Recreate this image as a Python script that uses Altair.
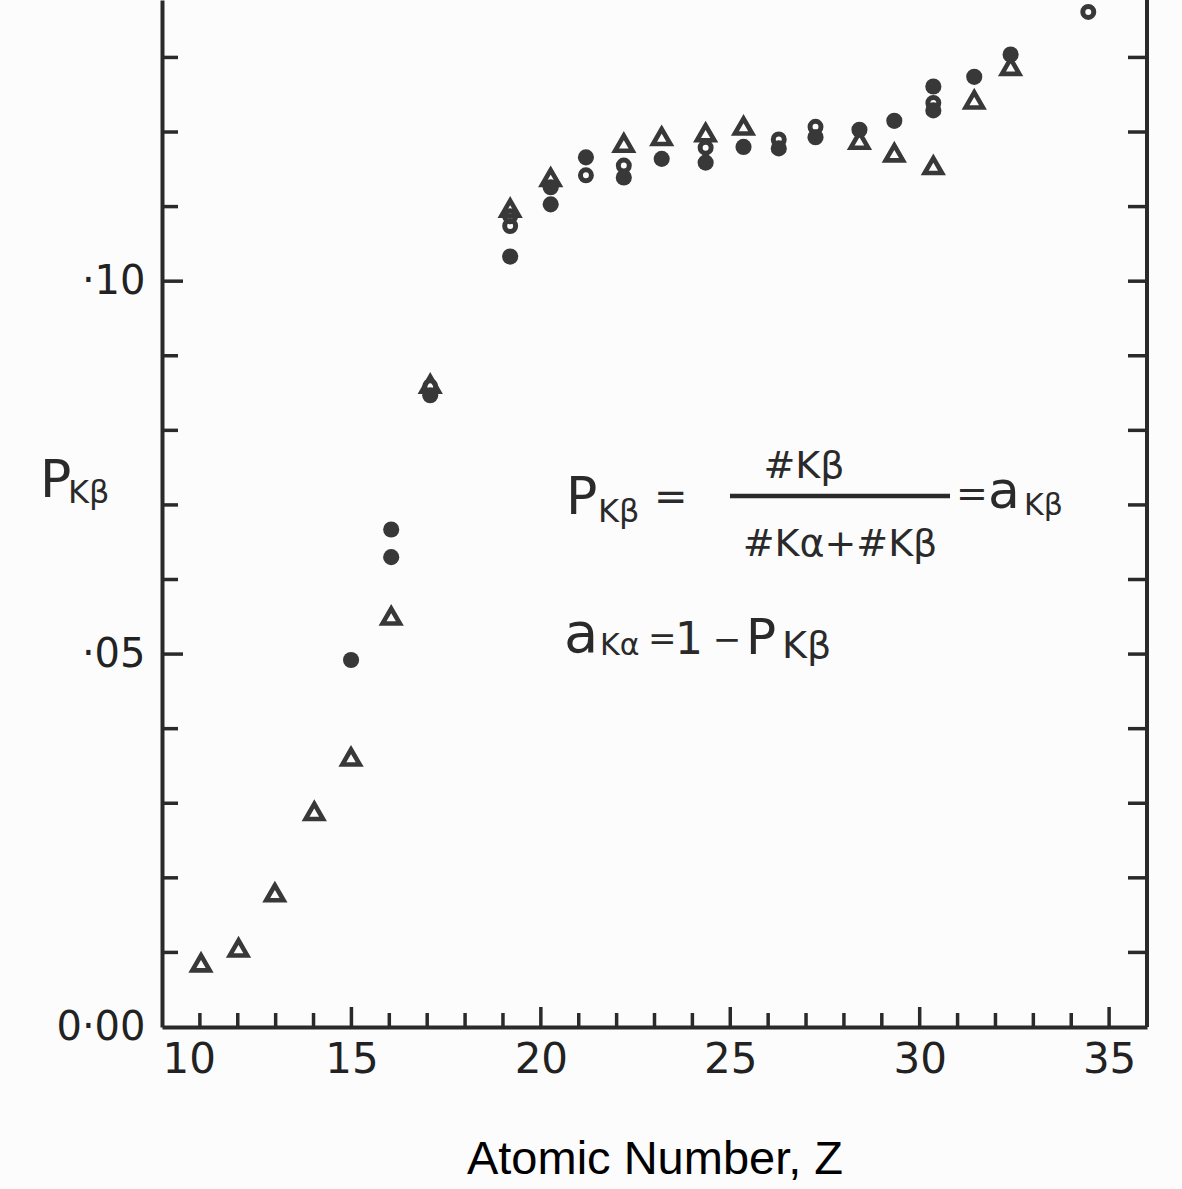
import altair as alt
import pandas as pd

# ---------------- data ----------------
# filled circles
filled_z = [14.99, 16.05, 16.05, 17.08, 19.19, 20.26, 20.26, 21.19, 22.19, 23.19,
            24.35, 25.35, 26.28, 27.25, 28.41, 29.33, 30.36, 30.36, 31.44, 32.40]
filled_p = [0.0492, 0.0630, 0.0667, 0.0847, 0.1033, 0.1126, 0.1103, 0.1166, 0.1139, 0.1164,
            0.1159, 0.1180, 0.1178, 0.1193, 0.1203, 0.1215, 0.1261, 0.1229, 0.1274, 0.1304]
# open circles
open_z = [17.08, 19.19, 19.19, 21.19, 22.19, 24.35, 26.28, 27.25, 30.36, 34.45]
open_p = [0.0859, 0.1087, 0.1074, 0.1142, 0.1155, 0.1179, 0.1190, 0.1207, 0.1239, 0.1361]
# open triangles
tri_z = [11.03, 12.02, 12.98, 14.02, 14.99, 16.05, 17.08, 19.19, 20.26, 22.19,
         23.19, 24.35, 25.35, 28.41, 29.33, 30.36, 31.44, 32.40]
tri_p = [0.0086, 0.0106, 0.0180, 0.0289, 0.0362, 0.0551, 0.0862, 0.1098, 0.1139, 0.1185,
         0.1194, 0.1199, 0.1208, 0.1189, 0.1172, 0.1155, 0.1243, 0.1288]

x_label_values = [10, 15, 20, 25, 30, 35]
y_label_values = [0.0, 0.05, 0.10]
y_label_texts = ["0·00", "·05", "·10"]
x_minor_ticks = [11, 12, 13, 14, 16, 17, 18, 19, 21, 22, 23, 24, 26, 27, 28, 29, 31, 32, 33, 34]
x_major_ticks = [15, 20, 25, 30, 35]
y_minor_ticks = [0.01, 0.02, 0.03, 0.04, 0.06, 0.07, 0.08, 0.09, 0.11, 0.12, 0.13]
y_major_ticks = [0.05, 0.10]
y_all_ticks = [0.01, 0.02, 0.03, 0.04, 0.05, 0.06, 0.07, 0.08, 0.09, 0.10, 0.11, 0.12, 0.13]

# ---------------- layout ----------------
W, H = 985, 1027
LEFT = 162
INK = "#2a2a2a"
MARK = "#383838"
FONT = "DejaVu Sans"

xscale = alt.Scale(domain=[10, 36], nice=False, zero=False)
yscale = alt.Scale(domain=[0, 0.1377], nice=False, zero=False)

label_expr = ("datum.value < 0.01 ? '" + y_label_texts[0] + "' : (datum.value < 0.07 ? '"
              + y_label_texts[1] + "' : '" + y_label_texts[2] + "')")

xaxis = alt.Axis(values=x_label_values, ticks=False, grid=False, domain=True,
                 domainWidth=4, domainColor=INK, labelFont=FONT, labelFontSize=42,
                 labelColor="#222", labelPadding=12, labelFlush=True,
                 title="Atomic Number, Z", titleFont="Liberation Sans",
                 titleFontSize=47, titleFontWeight="normal", titleColor="#000",
                 titlePadding=56)
yaxis = alt.Axis(values=y_label_values, labelExpr=label_expr, ticks=False, grid=False,
                 domain=True, domainWidth=4, domainColor=INK, labelFont=FONT,
                 labelFontSize=40, labelColor="#222", labelPadding=17, title=None)

filled_df = pd.DataFrame({"z": filled_z, "p": filled_p})
open_df = pd.DataFrame({"z": open_z, "p": open_p})
tri_df = pd.DataFrame({"z": tri_z, "p": tri_p})

X = alt.X("z:Q", scale=xscale, axis=xaxis)
Y = alt.Y("p:Q", scale=yscale, axis=yaxis)

tri_layer = alt.Chart(tri_df).mark_point(shape="triangle-up", filled=False, size=300,
                                          strokeWidth=4.6, color=MARK, opacity=1
                                          ).encode(x=X, y=Y)
open_layer = alt.Chart(open_df).mark_point(shape="circle", filled=False, size=120,
                                           strokeWidth=5, color=MARK, opacity=1
                                           ).encode(x=X, y=Y)
filled_layer = alt.Chart(filled_df).mark_point(shape="circle", filled=True, size=260,
                                               color=MARK, opacity=1
                                               ).encode(x=X, y=Y)

# inward tick marks
def yticks(vals, x0, x1):
    return alt.Chart(pd.DataFrame({"p": vals})).mark_rule(color=INK, strokeWidth=3.5).encode(
        y=Y, x=alt.value(x0), x2=alt.value(x1))

def xticks(vals, length):
    return alt.Chart(pd.DataFrame({"z": vals})).mark_rule(color=INK, strokeWidth=3.5).encode(
        x=X, y=alt.value(H), y2=alt.value(H - length))

left_minor = yticks(y_minor_ticks, 0, 16)
left_major = yticks(y_major_ticks, 0, 21)
right_ticks = yticks(y_all_ticks, W - 19, W)
bottom_minor = xticks(x_minor_ticks, 14)
bottom_major = xticks(x_major_ticks, 20)

right_frame = alt.Chart(pd.DataFrame({"z": [36]})).mark_rule(color=INK, strokeWidth=4).encode(
    x=alt.value(W), y=alt.value(0), y2=alt.value(H))

# annotations: (text, x px, baseline y px, font size, align)
ann = [
    # y-axis title  P_Kβ
    ("P", 40, 497, 52, "left"),
    ("Kβ", 68, 503, 32, "left"),
    # formula line 1
    ("P", 566, 514, 52, "left"),
    ("Kβ", 598, 522, 32, "left"),
    ("=", 654, 510, 40, "left"),
    ("#Kβ", 804, 478, 38, "center"),
    ("#Kα+#Kβ", 840, 556, 38, "center"),
    ("=", 956, 506, 38, "left"),
    ("a", 988, 508, 52, "left"),
    ("Kβ", 1024, 515, 30, "left"),
    # formula line 2
    ("a", 564, 652, 56, "left"),
    ("Kα", 600, 655, 30, "left"),
    ("=", 648, 650, 34, "left"),
    ("1", 689, 654, 44, "center"),
    ("−", 727, 651, 34, "center"),
    ("P", 746, 654, 50, "left"),
    ("Kβ", 782, 658, 38, "left"),
]
ann_layers = []
for txt, px, py, fs, al in ann:
    ann_layers.append(
        alt.Chart(pd.DataFrame({"t": [txt]})).mark_text(
            text=txt, font=FONT, fontSize=fs, align=al, baseline="alphabetic",
            color=INK, clip=False
        ).encode(x=alt.value(px - LEFT), y=alt.value(py))
    )

bar = alt.Chart(pd.DataFrame({"z": [0]})).mark_rule(color=INK, strokeWidth=4.5).encode(
    x=alt.value(730 - LEFT), x2=alt.value(950 - LEFT), y=alt.value(496))

chart = alt.layer(
    bottom_minor, bottom_major, left_minor, left_major, right_ticks, right_frame,
    tri_layer, open_layer, filled_layer, bar, *ann_layers
).properties(
    width=W, height=H,
    autosize=alt.AutoSizeParams(type="none"),
    padding={"left": LEFT, "top": 0, "right": 1182 - LEFT - W, "bottom": 1189 - H},
    background="#fcfcfc",
).configure_view(stroke=None)

chart.save("out.html", embed_options={"renderer": "svg", "actions": False})
